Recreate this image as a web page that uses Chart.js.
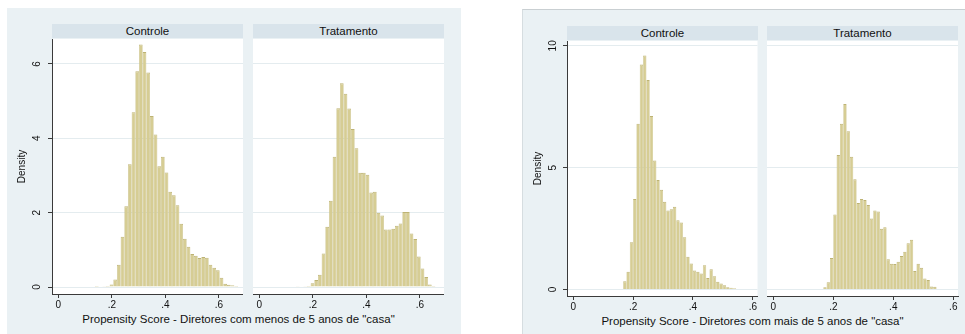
<!DOCTYPE html>
<html><head><meta charset="utf-8">
<script src="https://cdn.jsdelivr.net/npm/chart.js@4/dist/chart.umd.min.js"></script>
<style>
html,body{margin:0;padding:0;background:#fff;width:965px;height:334px;overflow:hidden;font-family:"Liberation Sans",Arial,sans-serif;}
.fig{position:absolute;background:#eaf1f4;box-sizing:border-box;}
.strip{position:absolute;background:#d9e4eb;color:#111;font-size:11.5px;text-align:center;line-height:14px;height:14px;}
canvas{position:absolute;}
.xt{position:absolute;font-size:11.5px;color:#111;white-space:nowrap;transform:translateX(-50%);line-height:13px;}
</style></head><body>
<div class="fig" style="left:7px;top:8px;width:454px;height:326px"></div>
<div class="fig" style="left:522px;top:9px;width:443px;height:325px;border-top:1px solid #c9cfd2;border-left:1px solid #d6dde0"></div>

<div class="strip" style="left:52px;top:24px;width:191px">Controle</div>
<div class="strip" style="left:253px;top:24px;width:191px">Tratamento</div>
<div class="strip" style="left:567px;top:26px;width:191px">Controle</div>
<div class="strip" style="left:767px;top:26px;width:191px">Tratamento</div>

<canvas id="l1" width="236" height="293" style="left:7px;top:19px"></canvas>
<canvas id="l2" width="199" height="293" style="left:245px;top:19px"></canvas>
<canvas id="r1" width="236" height="293" style="left:522px;top:21px"></canvas>
<canvas id="r2" width="206" height="293" style="left:759px;top:21px"></canvas>

<div class="xt" style="left:238.5px;top:313px">Propensity Score - Diretores com menos de 5 anos de "casa"</div>
<div class="xt" style="left:752.5px;top:315px">Propensity Score - Diretores com mais de 5 anos de "casa"</div>

<script>
// ---- data ----
const panelTitles = ['Controle', 'Tratamento'];
const xTickValues = [0, 0.2, 0.4, 0.6];
const xTickLabels = ['0', '.2', '.4', '.6'];
const leftYTicks = [0, 2, 4, 6];
const leftYLabels = ['0', '2', '4', '6'];
const rightYTicks = [0, 5, 10];
const rightYLabels = ['0', '5', '10'];

// bin centres (left figure: directors with < 5 years)
const leftBins = [0.1439,0.1576,0.1713,0.1850,0.1987,0.2124,0.2261,0.2398,0.2535,0.2672,
  0.2809,0.2946,0.3083,0.3220,0.3357,0.3494,0.3631,0.3768,0.3905,0.4042,
  0.4179,0.4316,0.4453,0.4590,0.4727,0.4864,0.5001,0.5138,0.5275,0.5412,
  0.5549,0.5686,0.5823,0.5960,0.6097,0.6234,0.6371,0.6508,0.6645];
const leftControle = [0.03,0,0.02,0.03,0.07,0.20,0.60,1.35,2.17,3.30,
  4.70,5.80,6.52,6.32,5.77,4.60,4.10,3.25,3.50,3.08,
  2.56,2.47,2.20,1.70,1.30,1.08,0.89,0.84,0.78,0.81,
  0.79,0.60,0.52,0.45,0.25,0.09,0.06,0.05,0.03];
const leftTratamento = [0.02,0,0.02,0.03,0.10,0.19,0.33,0.90,1.62,2.32,
  3.50,4.81,5.48,5.20,4.80,4.25,3.73,3.07,3.07,3.02,
  2.54,2.56,2.00,1.92,1.55,1.55,1.57,1.65,1.71,2.02,
  2.02,1.44,1.29,0.82,0.50,0.27,0.07,0.03,0];

// bin centres (right figure: directors with > 5 years)
const rightBins = [0.1722,0.1833,0.1944,0.2055,0.2166,0.2277,0.2388,0.2499,0.2610,0.2721,
  0.2832,0.2943,0.3054,0.3165,0.3276,0.3387,0.3498,0.3609,0.3720,0.3831,
  0.3942,0.4053,0.4164,0.4275,0.4386,0.4497,0.4608,0.4719,0.4830,0.4941,
  0.5052,0.5163,0.5274,0.5385];
const rightControle = [0.34,0.73,1.94,3.72,6.80,9.24,9.60,8.60,7.12,5.30,
  4.50,4.10,3.60,3.25,3.30,3.40,2.85,2.75,2.15,1.35,
  1.07,0.78,0.73,0.66,1.00,0.48,0.83,0.55,0.32,0.25,
  0.18,0.10,0.08,0.06];
const rightTratamento = [0.10,0.30,1.30,3.08,5.52,6.80,7.62,6.50,5.45,4.53,
  3.55,3.72,3.68,3.47,2.92,3.25,3.20,2.50,2.56,1.25,
  1.06,1.05,1.14,1.38,1.55,1.90,2.04,0.76,1.06,0.90,
  0.45,0.39,0.13,0.12];

// ---- styling ----
const FONT = '"Liberation Sans", Arial, sans-serif';
Chart.defaults.font.family = FONT;
const BAR_FILL = '#d6cd94';
const BAR_LINE = '#bdb374';
const AXIS = '#3a3a3a';
const GRID = '#e4ecef';

const plotBg = {
  id: 'plotBg',
  beforeDraw(chart) {
    const {ctx, chartArea: a} = chart;
    ctx.save();
    ctx.fillStyle = '#ffffff';
    ctx.fillRect(a.left, a.top, a.right - a.left, a.bottom - a.top);
    ctx.restore();
  }
};

function makePanel(id, bins, values, cfg) {
  const pts = bins.map((x, i) => ({x: x, y: values[i]}));
  const yScale = {
    type: 'linear', min: cfg.yMin, max: cfg.yMax,
    afterBuildTicks: s => { s.ticks = cfg.yTicks.map(v => ({value: v})); },
    afterFit: s => { s.width = cfg.yWidth; },
    grid: {color: GRID, lineWidth: 1, drawTicks: cfg.showY, tickLength: 4, tickColor: AXIS, tickWidth: 1},
    border: {display: cfg.showY, color: AXIS, width: 1},
    ticks: {
      display: cfg.showY, color: '#111', font: {size: 10},
      minRotation: 90, maxRotation: 90, crossAlign: 'center', padding: cfg.yPad || 0,
      autoSkip: false,
      callback: (v, i) => cfg.yLabels[i]
    },
    title: cfg.showY ? {display: true, text: 'Density', color: '#111', font: {size: 10},
      padding: {top: cfg.titlePad, bottom: 0}} : {display: false}
  };
  return new Chart(document.getElementById(id), {
    type: 'bar',
    data: {datasets: [{
      data: pts,
      backgroundColor: BAR_FILL,
      borderColor: BAR_LINE,
      borderWidth: {top: 1, left: 0.5, right: 0.5, bottom: 0},
      borderSkipped: 'start',
      barPercentage: 1, categoryPercentage: 1, inflateAmount: 0
    }]},
    options: {
      responsive: false, animation: false, events: [],
      layout: {padding: {top: 20, left: cfg.padLeft || 0, right: cfg.padRight || 0, bottom: 0}},
      plugins: {legend: {display: false}, tooltip: {enabled: false}, title: {display: false}},
      scales: {
        x: {
          type: 'linear', min: cfg.xMin, max: cfg.xMax, offset: false,
          afterBuildTicks: s => { s.ticks = xTickValues.map(v => ({value: v})); },
          afterFit: s => { s.height = 18; },
          grid: {offset: false, drawOnChartArea: false, drawTicks: true, tickLength: 4, tickColor: AXIS},
          border: {display: true, color: AXIS, width: 1},
          ticks: {color: '#111', font: {size: 10}, padding: 1, maxRotation: 0, autoSkip: false,
            callback: (v, i) => xTickLabels[i]}
        },
        y: yScale
      }
    },
    plugins: [plotBg]
  });
}

makePanel('l1', leftBins, leftControle, {xMin: -0.0236, xMax: 0.690, yMin: -0.188, yMax: 6.67,
  yTicks: leftYTicks, yLabels: leftYLabels, showY: true, yWidth: 45, yPad: 8, titlePad: 9});
makePanel('l2', leftBins, leftTratamento, {xMin: -0.0236, xMax: 0.690, yMin: -0.188, yMax: 6.67,
  yTicks: leftYTicks, yLabels: leftYLabels, showY: false, yWidth: 0, padLeft: 8});
makePanel('r1', rightBins, rightControle, {xMin: -0.021, xMax: 0.6157, yMin: -0.263, yMax: 10.2,
  yTicks: rightYTicks, yLabels: rightYLabels, showY: true, yWidth: 45, yPad: 4, titlePad: 10});
makePanel('r2', rightBins, rightTratamento, {xMin: -0.021, xMax: 0.6157, yMin: -0.263, yMax: 10.2,
  yTicks: rightYTicks, yLabels: rightYLabels, showY: false, yWidth: 0, padLeft: 8, padRight: 7});
</script>
</body></html>
